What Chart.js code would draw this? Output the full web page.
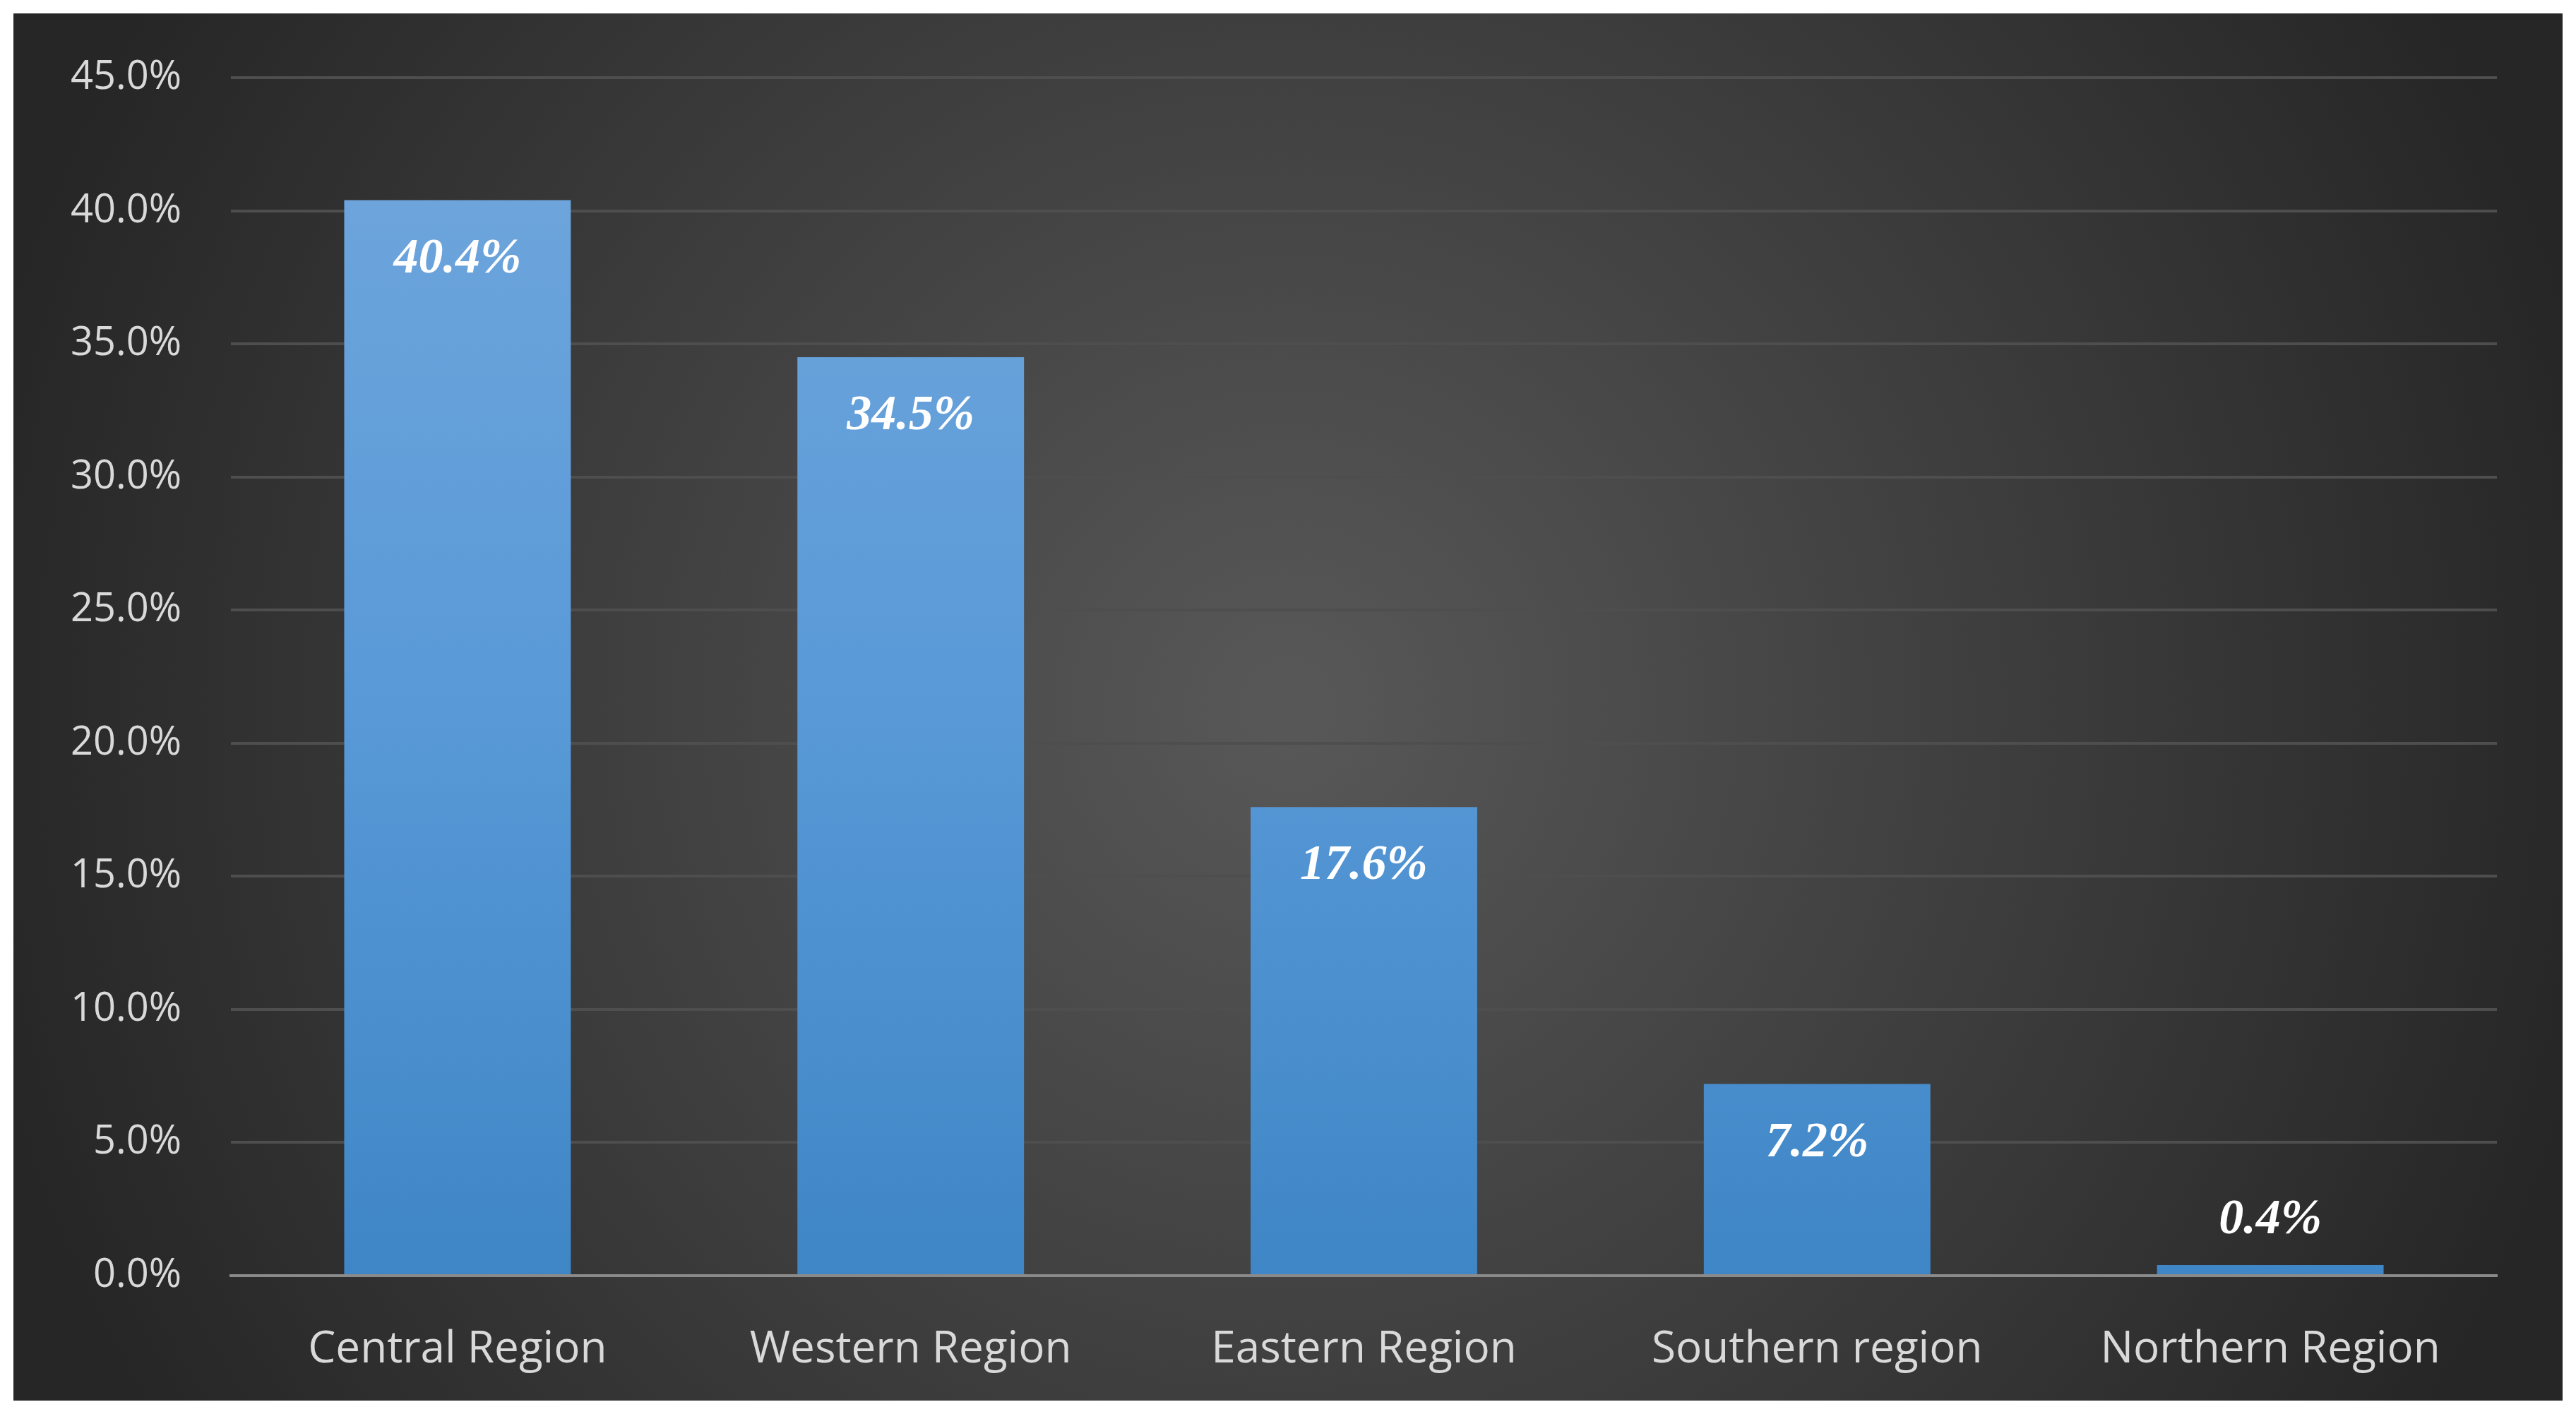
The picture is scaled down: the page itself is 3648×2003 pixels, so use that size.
<!DOCTYPE html>
<html><head><meta charset="utf-8">
<script src="https://cdn.jsdelivr.net/npm/chart.js@4/dist/chart.umd.min.js"></script>
<style>html,body{margin:0;padding:0;background:#fff}canvas{display:block}</style>
</head><body>
<div style="width:3648px;height:2003px"><canvas id="c"></canvas></div>
<script>
const categories = ["Central Region","Western Region","Eastern Region","Southern region","Northern Region"];
const values = [40.4, 34.5, 17.6, 7.2, 0.4];
const yTicks = [0,5,10,15,20,25,30,35,40,45];

const bgPlugin = {
  id:'bg',
  beforeDraw(chart){
    const ctx=chart.ctx;
    const x0=19,y0=19,x1=3629,y1=1984;
    const g=ctx.createRadialGradient((x0+x1)/2,(y0+y1)/2,50,(x0+x1)/2,(y0+y1)/2,1900);
    g.addColorStop(0,'#575757');g.addColorStop(1,'#262626');
    ctx.save();ctx.fillStyle='#fff';ctx.fillRect(0,0,chart.width,chart.height);
    ctx.fillStyle=g;ctx.fillRect(x0,y0,x1-x0,y1-y0);ctx.restore();
  }
};
const labelPlugin = {
  id:'lbl',
  afterDatasetsDraw(chart){
    const ctx=chart.ctx, meta=chart.getDatasetMeta(0);
    ctx.save();
    ctx.font='italic bold 70px "Liberation Serif", "DejaVu Serif", serif';
    ctx.fillStyle='#fff';ctx.textAlign='center';ctx.textBaseline='middle';
    meta.data.forEach((b,i)=>{
      const h=b.base-b.y;
      const y = h<120 ? b.y-63 : b.y+84;
      ctx.fillText(values[i].toFixed(1)+'%', b.x, y);
    });
    ctx.restore();
  }
};
new Chart(document.getElementById('c'),{
  type:'bar',
  data:{labels:categories,datasets:[{data:values,
    backgroundColor(c){
      const ca=c.chart.chartArea; if(!ca) return '#5b9bd5';
      const el=c.element; const top=el&&el.y!==undefined?el.y:ca.top;
      const g=c.chart.ctx.createLinearGradient(0,top,0,ca.bottom);
      g.addColorStop(0,'#71a7dc');g.addColorStop(0.5,'#5a9ad8');g.addColorStop(1,'#3f86c6');
      return g;
    },
    barPercentage:0.5,categoryPercentage:1}]},
  options:{
    responsive:true,maintainAspectRatio:false,animation:false,
    devicePixelRatio:1,
    layout:{padding:{left:19,right:112,top:110,bottom:19}},
    plugins:{legend:{display:false},tooltip:{enabled:false}},
    scales:{
      x:{grid:{display:false},border:{color:'#8a8a8a',width:4},
        ticks:{color:'#d9d9d9',padding:60,font:{family:'"Open Sans", "Noto Sans", sans-serif',size:62}},
        afterFit(s){s.height=177;}},
      y:{min:0,max:45,
        afterBuildTicks(s){s.ticks=yTicks.map(v=>({value:v}));},
        grid:{color:'#4e4e4e',lineWidth:4,drawTicks:false},border:{display:false},
        ticks:{color:'#d9d9d9',padding:70,font:{family:'"Open Sans", "Noto Sans", sans-serif',size:56},
          callback:v=>Number(v).toFixed(1)+'%'},
        afterFit(s){s.width=308;}}
    }
  },
  plugins:[bgPlugin,labelPlugin]
});
</script></body></html>
